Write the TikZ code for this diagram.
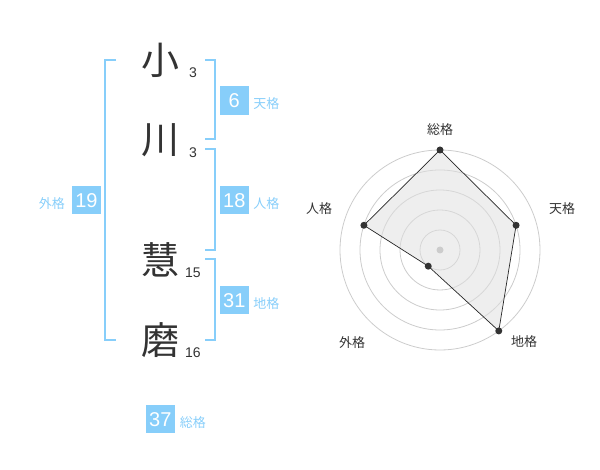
\documentclass[tikz,border=0pt]{standalone}
\usepackage{fontspec}
\setmainfont{Liberation Sans}
\newfontfamily\jpfont{Noto Sans CJK JP}
\usetikzlibrary{positioning}
\definecolor{kakuBlue}{RGB}{135,206,250}
\definecolor{inkGray}{RGB}{51,51,51}
\newcommand{\bigKanji}[1]{{\jpfont\fontsize{38}{38}\selectfont #1}}
\newcommand{\kakuName}[1]{{\jpfont\fontsize{13}{13}\selectfont #1}}

\begin{document}
\begin{tikzpicture}[x=1pt,y=-1pt,
    kakuBox/.style={fill=kakuBlue,text=white,minimum size=28.5pt,inner sep=0pt,font=\fontsize{20}{20}\selectfont},
    kakuLabel/.style={text=kakuBlue,inner sep=0pt},
    strokeNum/.style={text=inkGray,inner sep=0pt,font=\fontsize{14}{14}\selectfont},
    bracketLine/.style={draw=kakuBlue,line width=2pt}]
      \useasboundingbox (0,0) rectangle (600,470);
      % name characters
      \node[text=inkGray] (charA) at (160,60){\bigKanji{小}};
      \node[text=inkGray] (charB) at (160,140){\bigKanji{川}};
      \node[text=inkGray] (charC) at (160,260){\bigKanji{慧}};
      \node[text=inkGray] (charD) at (160,340){\bigKanji{磨}};
      \node[strokeNum] (strokeA) at (193,73){3};
      \node[strokeNum] (strokeB) at (193,153){3};
      \node[strokeNum] (strokeC) at (193,273){15};
      \node[strokeNum] (strokeD) at (193,353){16};
      % brackets
      \draw[bracketLine] (116,60) -- (105,60) -- (105,340) -- (116,340);
      \draw[bracketLine] (205,60) -- (215,60) -- (215,139) -- (205,139);
      \draw[bracketLine] (205,149) -- (215,149) -- (215,250) -- (205,250);
      \draw[bracketLine] (205,259) -- (215,259) -- (215,340) -- (205,340);
      % kaku boxes
      \node[kakuBox] (tenBox) at (234.3,100.7){6};
      \node[kakuBox] (jinBox) at (234.3,200.2){18};
      \node[kakuBox] (chiBox) at (234.3,300.2){31};
      \node[kakuBox] (gaiBox) at (86.5,200.2){19};
      \node[kakuBox] (souBox) at (160.3,419.2){37};
      \node[kakuLabel,right=4.5pt of tenBox,yshift=-3pt] (tenLabel){\kakuName{天格}};
      \node[kakuLabel,right=4.5pt of jinBox,yshift=-3pt] (jinLabel){\kakuName{人格}};
      \node[kakuLabel,right=4.5pt of chiBox,yshift=-3pt] (chiLabel){\kakuName{地格}};
      \node[kakuLabel,left=7pt of gaiBox,yshift=-3pt] (gaiLabel){\kakuName{外格}};
      \node[kakuLabel,right=5pt of souBox,yshift=-3pt] (souLabel){\kakuName{総格}};
      % radar chart
      \begin{scope}[shift={(440,250)},y=1pt]
        \foreach \r in {20,40,...,100}
          \draw[black!20,line width=0.8pt] (0,0) circle (\r);
        \coordinate (souPt) at (90:100);
        \coordinate (tenPt) at (18:80);
        \coordinate (chiPt) at (-54:100);
        \coordinate (gaiPt) at (234:20);
        \coordinate (jinPt) at (162:80);
        \fill[black!12,fill opacity=0.55] (souPt) -- (tenPt) -- (chiPt) -- (gaiPt) -- (jinPt) -- cycle;
        \draw[black!85,line width=0.7pt] (souPt) -- (tenPt) -- (chiPt) -- (gaiPt) -- (jinPt) -- cycle;
        \foreach \p in {souPt,tenPt,chiPt,gaiPt,jinPt}
          \fill[inkGray] (\p) circle (3.5);
        \fill[black!20] (0,0) circle (3.5);
      \end{scope}
      \node[text=inkGray] (souAxis) at (440,130){\kakuName{総格}};
      \node[text=inkGray] (tenAxis) at (562,208.5){\kakuName{天格}};
      \node[text=inkGray] (chiAxis) at (524,342){\kakuName{地格}};
      \node[text=inkGray] (gaiAxis) at (352,342.5){\kakuName{外格}};
      \node[text=inkGray] (jinAxis) at (319,208.5){\kakuName{人格}};
\end{tikzpicture}
\end{document}
